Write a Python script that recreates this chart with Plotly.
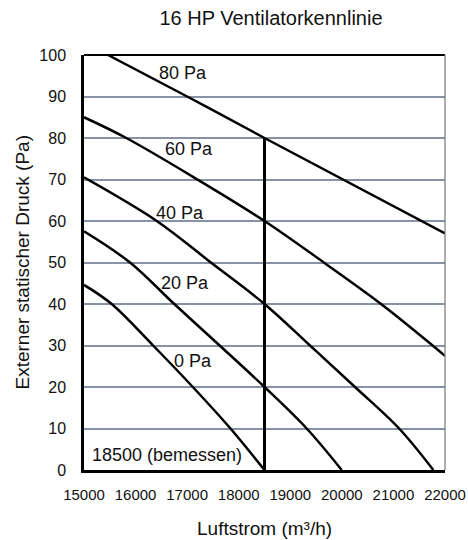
import plotly.graph_objects as go

# Luftstrom (m3/h) / externer statischer Druck (Pa)
q_80 = [15465, 17000, 18500, 22000]
p_80 = [100, 90, 80, 57]

q_60 = [15000, 15820, 17200, 18500, 19650, 20760, 21760, 22000]
p_60 = [85, 80, 70, 60, 50, 40, 30, 27.5]

q_40 = [15000, 16410, 17460, 18500, 19382, 20255, 21110, 21774]
p_40 = [70.5, 60, 50, 40, 30, 20, 10, 0]

q_20 = [15000, 15892, 16750, 17630, 18500, 19318, 19997]
p_20 = [57.5, 50, 40, 30, 20, 10, 0]

q_0 = [15000, 15537, 16340, 17110, 17840, 18500]
p_0 = [44.6, 40, 30, 20, 10, 0]

q_rated = [18500, 18500]
p_rated = [0, 80]

labels = ["80 Pa", "60 Pa", "40 Pa", "20 Pa", "0 Pa", "18500 (bemessen)"]
label_q = [16929, 17036, 16852, 16958, 17120, 16619]
label_p = [95.7, 77.4, 61.9, 45.1, 26.3, 3.7]

FONT = "Liberation Sans, Arial, sans-serif"

fig = go.Figure()
for q, p in [(q_80, p_80), (q_60, p_60), (q_40, p_40), (q_20, p_20), (q_0, p_0)]:
    fig.add_trace(go.Scatter(x=q, y=p, mode="lines", line=dict(color="black", width=2.5, shape="spline", smoothing=1.0),
                             hoverinfo="skip", showlegend=False))
fig.add_trace(go.Scatter(x=q_rated, y=p_rated, mode="lines", line=dict(color="black", width=3),
                         hoverinfo="skip", showlegend=False))

for t, q, p in zip(labels, label_q, label_p):
    fig.add_annotation(x=q, y=p, text=t, showarrow=False, font=dict(size=18, color="#111"))

# rahmen oben schwarz, rechts grau
fig.add_shape(type="line", xref="x domain", yref="y domain", x0=0, x1=1, y0=1, y1=1, line=dict(color="black", width=2))
fig.add_shape(type="line", xref="x domain", yref="y domain", x0=1, x1=1, y0=0, y1=1, line=dict(color="#777", width=1.2))

fig.update_xaxes(range=[15000, 22000], dtick=1000, tickformat="d", showgrid=False, zeroline=False,
                 showline=True, linecolor="black", linewidth=3, automargin=False,
                 ticks="outside", ticklen=9, tickcolor="rgba(0,0,0,0)",
                 tickfont=dict(size=15, color="#111"))
fig.update_yaxes(range=[0, 100], dtick=10, showgrid=True, gridcolor="#8792a4", gridwidth=1.5, zeroline=False,
                 showline=True, linecolor="black", linewidth=2.5, automargin=False,
                 ticks="outside", ticklen=12, tickcolor="rgba(0,0,0,0)",
                 tickfont=dict(size=16, color="#111"))

fig.add_annotation(xref="x domain", yref="paper", x=0.5, y=0, yshift=-58, yanchor="middle", xanchor="center",
                   text="Luftstrom (m³/h)", showarrow=False, font=dict(size=19, color="#111"))
fig.add_annotation(xref="paper", yref="y domain", x=0, xshift=-62, y=0.5, xanchor="center", yanchor="middle",
                   text="Externer statischer Druck (Pa)", textangle=-90, showarrow=False,
                   font=dict(size=19, color="#111"))

fig.update_layout(
    width=468, height=540,
    margin=dict(l=84, r=23, t=55, b=70, autoexpand=False),
    paper_bgcolor="white", plot_bgcolor="white",
    font=dict(family=FONT, color="#111"),
    title=dict(text="16 HP Ventilatorkennlinie", x=271 / 468, xanchor="center", y=1 - 18 / 540, yanchor="middle",
               font=dict(size=20, color="#111")),
)

# body-rand weg, damit die 468x540 genau ins fenster passen
fig.write_html("out.html", config={"displayModeBar": False},
               post_script="document.body.style.margin='0';document.body.style.overflow='hidden';")
